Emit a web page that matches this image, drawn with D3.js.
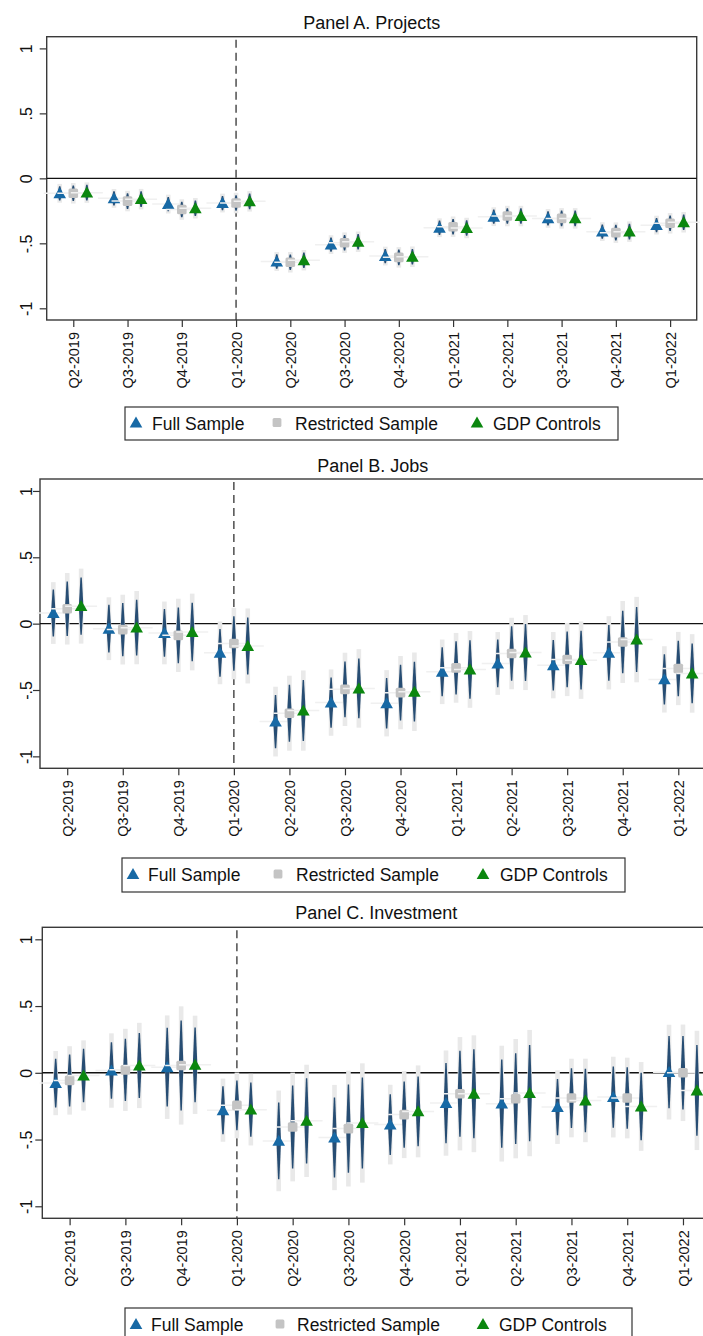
<!DOCTYPE html>
<html>
<head>
<meta charset="utf-8">
<script src="https://cdn.jsdelivr.net/npm/d3@7"></script>
<style>
  html, body { margin: 0; padding: 0; background: #fff; }
  svg { display: block; font-family: "Liberation Sans", Arial, sans-serif; }
</style>
</head>
<body>
<svg id="chart" width="703" height="1336"></svg>
<script>
// ---- Data ----
const quarters = ["Q2-2019", "Q3-2019", "Q4-2019", "Q1-2020", "Q2-2020", "Q3-2020",
  "Q4-2020", "Q1-2021", "Q2-2021", "Q3-2021", "Q4-2021", "Q1-2022"];
const yTicks = [1, 0.5, 0, -0.5, -1];
const yTickLabels = ["1", ".5", "0", "-.5", "-1"];
const seriesNames = ["Full Sample", "Restricted Sample", "GDP Controls"];
const breakQuarter = "Q1-2020";

// Panel A. Projects (estimate, 95% CI half width)
const projFull    = [-0.115, -0.154, -0.198, -0.19, -0.64, -0.51, -0.598, -0.38, -0.295, -0.308, -0.41, -0.36];
const projFullCI  = [0.055, 0.055, 0.055, 0.055, 0.055, 0.055, 0.055, 0.055, 0.055, 0.055, 0.055, 0.055];
const projRestr   = [-0.115, -0.175, -0.24, -0.19, -0.646, -0.495, -0.608, -0.372, -0.29, -0.308, -0.418, -0.346];
const projRestrCI = [0.06, 0.06, 0.06, 0.06, 0.06, 0.06, 0.06, 0.06, 0.06, 0.06, 0.06, 0.06];
const projGdp     = [-0.11, -0.16, -0.23, -0.177, -0.63, -0.488, -0.603, -0.382, -0.29, -0.308, -0.41, -0.338];
const projGdpCI   = [0.06, 0.06, 0.06, 0.06, 0.06, 0.06, 0.06, 0.06, 0.06, 0.06, 0.06, 0.06];

// Panel B. Jobs
const jobsFull    = [0.08, -0.038, -0.07, -0.22, -0.738, -0.595, -0.60, -0.363, -0.30, -0.313, -0.22, -0.42];
const jobsFullCI  = [0.177, 0.18, 0.18, 0.18, 0.20, 0.19, 0.19, 0.185, 0.18, 0.19, 0.21, 0.19];
const jobsRestr   = [0.112, -0.045, -0.088, -0.15, -0.675, -0.495, -0.52, -0.333, -0.225, -0.27, -0.138, -0.338];
const jobsRestrCI = [0.205, 0.2, 0.21, 0.205, 0.215, 0.21, 0.21, 0.2, 0.205, 0.21, 0.235, 0.21];
const jobsGdp     = [0.132, -0.03, -0.063, -0.168, -0.655, -0.488, -0.513, -0.345, -0.218, -0.275, -0.12, -0.375];
const jobsGdpCI   = [0.215, 0.21, 0.22, 0.215, 0.23, 0.225, 0.225, 0.22, 0.215, 0.222, 0.245, 0.225];

// Panel C. Investment
const invFull    = [-0.077, 0.017, 0.042, -0.28, -0.51, -0.485, -0.388, -0.227, -0.231, -0.257, -0.182, 0.005];
const invFullCI  = [0.183, 0.212, 0.295, 0.18, 0.287, 0.30, 0.227, 0.30, 0.33, 0.21, 0.23, 0.27];
const invRestr   = [-0.057, 0.022, 0.055, -0.244, -0.406, -0.418, -0.313, -0.157, -0.194, -0.189, -0.189, 0.0];
const invRestrCI = [0.195, 0.234, 0.337, 0.187, 0.31, 0.33, 0.248, 0.323, 0.34, 0.224, 0.23, 0.275];
const invGdp     = [-0.02, 0.055, 0.06, -0.276, -0.36, -0.376, -0.289, -0.157, -0.152, -0.207, -0.252, -0.132];
const invGdpCI   = [0.2, 0.243, 0.28, 0.204, 0.32, 0.34, 0.262, 0.333, 0.36, 0.238, 0.253, 0.34];

// ---- Config ----
const fontFamily = "'Liberation Sans', Arial, sans-serif";
const colors = ["#1769a5", "#c4c4c4", "#0b870f"];
const shapes = ["triangle", "square", "triangle"];
const spindleColor = "#274d73";
const wideCIColor = "#e9e9e9";
const z99 = 2.576 / 1.96;
const seriesOffset = 0.25;

const panels = [
  { title: "Panel A. Projects", left: 46.7, right: 696.7, top: 36.7, bottom: 320, titleY: 23,
    series: [[projFull, projFullCI], [projRestr, projRestrCI], [projGdp, projGdpCI]],
    legend: { x: 125, y: 407, w: 493, h: 33, items: [11, 152, 352], text: [27, 170, 368] } },
  { title: "Panel B. Jobs", left: 40, right: 705.5, top: 479, bottom: 768.3, titleY: 466,
    series: [[jobsFull, jobsFullCI], [jobsRestr, jobsRestrCI], [jobsGdp, jobsGdpCI]],
    legend: { x: 122, y: 858, w: 503, h: 34, items: [11, 156, 361], text: [26, 174, 378] } },
  { title: "Panel C. Investment", left: 42.3, right: 710.3, top: 927.3, bottom: 1218.3, titleY: 913,
    series: [[invFull, invFullCI], [invRestr, invRestrCI], [invGdp, invGdpCI]],
    legend: { x: 125, y: 1308, w: 507, h: 34, items: [11, 155, 358], text: [26, 172, 374] } }
];

const svg = d3.select("#chart");

// ---- Markers ----
function drawMarker(sel, shape, color, cx, cy, size) {
  if (shape === "triangle") {
    const w = size * 1.05, h = size * 0.92;
    sel.append("path")
      .attr("d", `M${cx},${cy - h * 0.55} L${cx + w / 2},${cy + h * 0.45} L${cx - w / 2},${cy + h * 0.45} Z`)
      .attr("fill", color);
  } else {
    const s = size * 0.8;
    sel.append("rect")
      .attr("x", cx - s / 2).attr("y", cy - s / 2)
      .attr("width", s).attr("height", s)
      .attr("rx", 1.5)
      .attr("fill", color);
  }
}

// ---- Panels ----
panels.forEach(p => {
  const g = svg.append("g");
  const x = d3.scaleLinear().domain([-0.49, quarters.length - 0.51]).range([p.left, p.right]);
  const y = d3.scaleLinear().domain([-1.09, 1.09]).range([p.bottom, p.top]);

  // title
  g.append("text")
    .attr("x", (p.left + p.right) / 2).attr("y", p.titleY)
    .attr("text-anchor", "middle").attr("dy", "0.35em")
    .attr("font-size", 18).attr("fill", "#111")
    .text(p.title);

  // y axis
  const yAxis = g.append("g").attr("transform", `translate(${p.left},0)`)
    .call(d3.axisLeft(y).tickValues(yTicks).tickSize(7).tickFormat((d, i) => yTickLabels[i]))
    .attr("font-family", fontFamily);
  yAxis.select(".domain").remove();
  yAxis.selectAll(".tick line").attr("stroke", "#333").attr("stroke-width", 1.2);
  yAxis.selectAll(".tick text")
    .attr("font-size", 16).attr("fill", "#111")
    .attr("x", 0).attr("y", 0).attr("dy", "0.35em")
    .attr("text-anchor", "middle")
    .attr("transform", `translate(${26 - p.left},0) rotate(-90)`);

  // x axis
  const xAxis = g.append("g").attr("transform", `translate(0,${p.bottom})`)
    .call(d3.axisBottom(x).tickValues(d3.range(quarters.length)).tickSize(7).tickFormat(i => quarters[i]))
    .attr("font-family", fontFamily);
  xAxis.select(".domain").remove();
  xAxis.selectAll(".tick line").attr("stroke", "#333").attr("stroke-width", 1.2);
  xAxis.selectAll(".tick text")
    .attr("font-size", 14.5).attr("fill", "#111")
    .attr("x", 0).attr("y", 0).attr("dy", "0.35em")
    .attr("text-anchor", "end")
    .attr("transform", "translate(0,12) rotate(-90)");

  // frame
  g.append("rect")
    .attr("x", p.left).attr("y", p.top)
    .attr("width", p.right - p.left).attr("height", p.bottom - p.top)
    .attr("fill", "none").attr("stroke", "#3a3a3a").attr("stroke-width", 1.4);

  // zero line and break line
  g.append("line")
    .attr("x1", p.left).attr("x2", p.right)
    .attr("y1", y(0)).attr("y2", y(0))
    .attr("stroke", "#111").attr("stroke-width", 1.4);
  const bx = x(quarters.indexOf(breakQuarter));
  g.append("line")
    .attr("x1", bx).attr("x2", bx)
    .attr("y1", p.top + 3).attr("y2", p.bottom)
    .attr("stroke", "#333").attr("stroke-width", 1.3)
    .attr("stroke-dasharray", "8,5");

  // estimates with confidence intervals
  p.series.forEach((s, k) => {
    const est = s[0], ci = s[1];
    const sg = g.append("g");
    est.forEach((v, i) => {
      const cx = x(i + (k - 1) * seriesOffset);
      const cy = y(v);
      const hi = y(v + ci[i]), lo = y(v - ci[i]);
      const hi99 = y(v + ci[i] * z99), lo99 = y(v - ci[i] * z99);
      // faint glow line at estimate
      sg.append("line")
        .attr("x1", cx - 16).attr("x2", cx + 16)
        .attr("y1", cy).attr("y2", cy)
        .attr("stroke", "#f0f0f0").attr("stroke-width", 1.5);
      // 99% CI
      sg.append("rect")
        .attr("x", cx - 2.3).attr("y", hi99)
        .attr("width", 4.6).attr("height", lo99 - hi99)
        .attr("fill", wideCIColor);
      // 95% CI spindle
      sg.append("path")
        .attr("d", `M${cx - 0.7},${hi} L${cx - 2.3},${cy} L${cx - 0.7},${lo} L${cx + 0.7},${lo} L${cx + 2.3},${cy} L${cx + 0.7},${hi} Z`)
        .attr("fill", spindleColor);
      drawMarker(sg, shapes[k], colors[k], cx, cy, 12);
    });
  });

  // legend
  const L = p.legend;
  const lg = g.append("g");
  lg.append("rect")
    .attr("x", L.x).attr("y", L.y).attr("width", L.w).attr("height", L.h)
    .attr("fill", "#fff").attr("stroke", "#333").attr("stroke-width", 1.2);
  seriesNames.forEach((name, k) => {
    const cy = L.y + L.h / 2;
    drawMarker(lg, shapes[k], colors[k], L.x + L.items[k], cy - 1, k === 1 ? 11 : 12);
    lg.append("text")
      .attr("x", L.x + L.text[k]).attr("y", cy)
      .attr("dy", "0.35em")
      .attr("font-size", 17.5).attr("fill", "#111")
      .text(name);
  });
});
</script>
</body>
</html>
